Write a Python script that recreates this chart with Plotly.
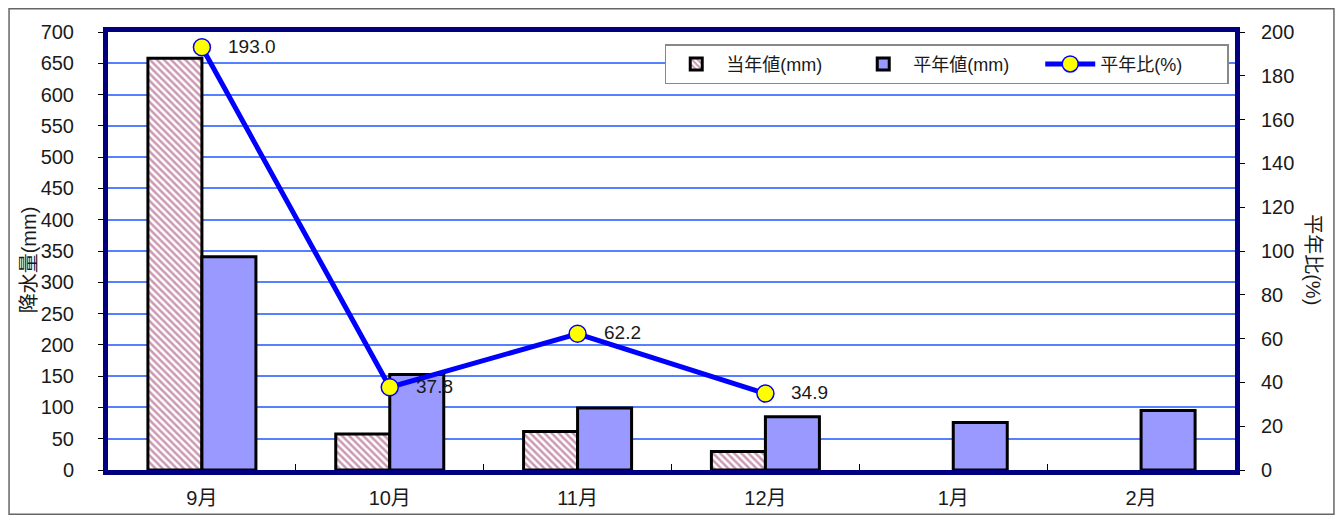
import plotly.graph_objects as go

months = ["9月", "10月", "11月", "12月", "1月", "2月"]
this_year = [658, 57.6, 61.5, 29.6, None, None]
normal = [341, 152.5, 99, 85, 76, 95]
ratio = [193.0, 37.8, 62.2, 34.9, None, None]
ratio_labels = ["193.0", "37.8", "62.2", "34.9", "", ""]

FONT = "Arial, 'Liberation Sans', 'Noto Sans CJK JP', sans-serif"
NAVY = "#000080"
TXT = "#1a1a1a"

fig = go.Figure()
fig.add_trace(go.Bar(
    x=months, y=this_year, name="当年値(mm)",
    marker=dict(color="white", line=dict(color="black", width=3),
                pattern=dict(shape="\\", fgcolor="#993366", bgcolor="white", size=5, solidity=0.5)),
))
fig.add_trace(go.Bar(
    x=months, y=normal, name="平年値(mm)",
    marker=dict(color="#9999FF", line=dict(color="black", width=3)),
))
fig.add_trace(go.Scatter(
    x=months, y=ratio, name="平年比(%)", yaxis="y2", mode="lines+markers",
    line=dict(color="#0000FF", width=5),
    marker=dict(color="#FFFF00", size=17, line=dict(color="#0000FF", width=1.5)),
))

annotations = []
for m, r, t in zip(months, ratio, ratio_labels):
    if r is not None:
        annotations.append(dict(x=m, y=r, xref="x", yref="y2", text=t, showarrow=False,
                                xanchor="left", xshift=24, yshift=1,
                                font=dict(size=19, color=TXT, family=FONT)))
annotations.append(dict(x=-0.0700, y=0.479, xref="paper", yref="paper", text="降水量(mm)",
                        xanchor="center", yanchor="middle",
                        textangle=-90, showarrow=False, font=dict(size=20, color=TXT, family=FONT)))
annotations.append(dict(x=1.0692, y=0.479, xref="paper", yref="paper", text="平年比(%)",
                        xanchor="center", yanchor="middle",
                        textangle=90, showarrow=False, font=dict(size=20, color=TXT, family=FONT)))

fig.update_layout(
    width=1327, height=507,
    margin=dict(l=100, r=100, t=24, b=45, autoexpand=False),
    paper_bgcolor="white", plot_bgcolor="white",
    font=dict(family=FONT, size=20, color=TXT),
    barmode="group", bargap=0.425, bargroupgap=0,
    showlegend=True,
    legend=dict(orientation="h", x=0.494, y=0.972, xanchor="left", yanchor="top",
                bordercolor="#888888", borderwidth=1.5, bgcolor="white",
                font=dict(size=18, family=FONT), itemwidth=50, entrywidth=122,
                tracegroupgap=0),
    xaxis=dict(showline=True, mirror=True, linecolor=NAVY, linewidth=5,
               ticks="inside", tickson="boundaries", ticklen=6, tickcolor="black",
               ticklabelstandoff=6, showgrid=False, tickfont=dict(size=20)),
    yaxis=dict(range=[0, 700], dtick=50, showline=True, mirror=True, linecolor=NAVY, linewidth=5,
               ticks="outside", ticklen=5, tickcolor="black", ticklabelstandoff=20,
               showgrid=True, gridcolor="#5580FF", gridwidth=1.5, zeroline=False,
               tickfont=dict(size=20)),
    yaxis2=dict(range=[0, 200], dtick=20, overlaying="y", side="right",
                showline=True, linecolor=NAVY, linewidth=5,
                ticks="outside", ticklen=5, tickcolor="black", ticklabelstandoff=12,
                showgrid=False, zeroline=False, tickfont=dict(size=20)),
    annotations=annotations,
    shapes=[dict(type="rect", xref="paper", yref="paper", x0=-0.0878, x1=1.0878,
                 y0=-0.101, y1=1.0531, line=dict(color="#666666", width=1.5), layer="below")],
)

fig.write_html("out.html")
